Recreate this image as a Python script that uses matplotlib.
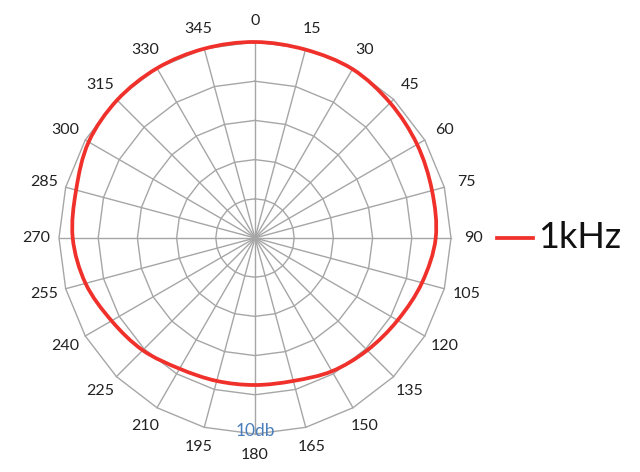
import numpy as np
import matplotlib
matplotlib.use('Agg')
import matplotlib.pyplot as plt
from matplotlib.path import Path
from matplotlib.patches import PathPatch

# data
angles = list(range(0, 360, 15))
angle_labels = [str(a) for a in angles]
values_1khz = [10.0, 9.95, 9.95, 9.75, 9.55, 9.35, 9.22, 8.82, 8.4, 8.1, 7.85, 7.55,
               7.5, 7.55, 7.7, 8.1, 8.45, 8.95, 9.3, 9.45, 9.8, 9.95, 10.0, 10.0]
rings = [2, 4, 6, 8, 10]
axis_label = '10db'
series_name = '1kHz'

plt.rcParams['font.family'] = ['Lato', 'DejaVu Sans']

GRID = '#a6a6a6'
RED = '#f0302a'


def to_xy(theta_deg, r):
    t = np.deg2rad(np.asarray(theta_deg, dtype=float))
    r = np.asarray(r, dtype=float)
    return r * np.sin(t), r * np.cos(t)


def smooth_closed_path(x, y, k=1 / 6.0):
    # closed catmull-rom curve drawn as cubic bezier segments
    n = len(x)
    pts = np.column_stack([x, y])
    verts = [pts[0]]
    codes = [Path.MOVETO]
    for i in range(n):
        p0 = pts[(i - 1) % n]
        p1 = pts[i]
        p2 = pts[(i + 1) % n]
        p3 = pts[(i + 2) % n]
        c1 = p1 + (p2 - p0) * k
        c2 = p2 - (p3 - p1) * k
        verts += [c1, c2, p2]
        codes += [Path.CURVE4] * 3
    return Path(verts, codes)


fig = plt.figure(figsize=(6.4, 4.72), dpi=100)
ax = fig.add_axes([0, 0, 1, 1])
px = 19.6  # pixels per unit
cx, cy = 255, 238
ax.set_xlim(-cx / px, (640 - cx) / px)
ax.set_ylim((cy - 472) / px, cy / px)
ax.axis('off')

# polygon grid
closed = angles + [angles[0]]
for r in rings:
    gx, gy = to_xy(closed, [r] * len(closed))
    ax.plot(gx, gy, color=GRID, lw=1.0, zorder=1)
for a in angles:
    sx, sy = to_xy([a, a], [0, rings[-1]])
    ax.plot(sx, sy, color=GRID, lw=1.0, zorder=1)

# angle labels
for a, lab in zip(angles, angle_labels):
    lx, ly = to_xy(a, 11.05)
    ax.text(lx * 1.01, ly, lab, ha='center', va='center',
            fontsize=11.5, color='#222222')

ax.text(0, -9.85, axis_label, ha='center', va='center', fontsize=12.5,
        color='#4a7ebb', zorder=3)

# series
dx, dy = to_xy(angles, values_1khz)
ax.add_patch(PathPatch(smooth_closed_path(dx, dy), facecolor='none',
                       edgecolor=RED, lw=2.7, zorder=4))

# legend (drawn by hand so it sits where the reference has it)
lx0 = (497 - cx) / px
lx1 = (533 - cx) / px
ax.plot([lx0, lx1], [0, 0], color=RED, lw=2.7)
ax.text((538 - cx) / px, 0.05, series_name, ha='left', va='center',
        fontsize=26, color='#111111')

fig.savefig('out.png', dpi=100)
